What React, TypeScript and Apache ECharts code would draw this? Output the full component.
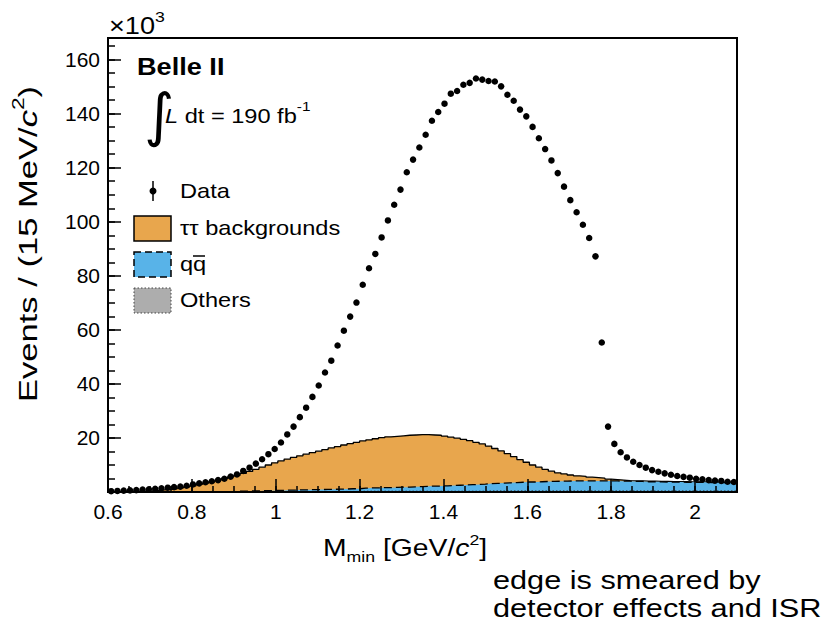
import React, { useEffect, useRef } from "react";
import * as echarts from "echarts";

// Binning of M_min: 100 bins of 15 MeV/c^2 from 0.6 to 2.1 GeV/c^2
const binLow = 0.6;
const binWidth = 0.015;

// Observed events per bin (x10^3)
const dataCounts = [
  0.3, 0.4, 0.5, 0.6, 0.7, 0.9, 1.0, 1.2, 1.4, 1.6, 1.8,
  2.0, 2.3, 2.8, 3.2, 3.6, 4.0, 4.4, 4.9, 5.7, 6.5, 7.8, 9.0, 10.5, 12.1, 14.0, 15.9, 18.3,
  21.3, 24.2, 27.7, 31.2, 35.2, 39.4, 44.2, 48.6, 54.2, 59.7, 64.9, 70.1, 76.7, 82.8, 88.1, 94.2, 100.5, 106.3, 111.9,
  118.3, 123.0, 127.5, 132.2, 137.4, 140.6, 143.7, 147.4, 148.4, 150.7, 151.4, 153.0, 152.6, 152.1, 151.9, 150.1,
  147.0, 144.8, 141.5, 139.0, 135.1, 130.9, 126.9, 122.7, 118.0,
  113.0, 108.0, 103.5, 98.9, 94.0, 87.2, 55.3,
  24.2, 17.8, 14.7, 12.8, 11.2, 10.0, 9.0, 8.1, 7.5, 6.9, 6.4, 5.9, 5.6, 5.3, 4.9, 4.7, 4.4, 4.2, 4.1, 3.8, 3.7,
];

// Expected tau-pair backgrounds per bin (x10^3)
const tautauCounts = [
  0.1, 0.1, 0.2, 0.2, 0.3, 0.3, 0.4, 0.6, 0.7, 0.9, 1.1,
  1.4, 1.8, 2.2, 2.7, 3.2, 3.7, 4.3, 4.9, 5.5, 5.9, 6.6, 7.2, 8.0, 8.7, 9.5, 10.2, 10.9, 11.5, 12.1, 12.6, 13.2,
  13.7, 14.2, 14.7, 15.3, 15.7, 16.3, 16.7, 17.2, 17.5, 17.8, 18.2,
  18.5, 18.8, 18.9, 19.0, 19.2, 19.2, 19.2, 19.1, 18.9, 18.8, 18.4, 17.9, 17.4, 16.9, 16.3, 15.6, 14.9,
  13.9, 12.9, 11.9, 10.8, 9.6, 8.4, 7.3, 6.3, 5.4, 4.5, 3.8, 3.1, 2.7, 2.2, 1.9, 1.7, 1.4, 1.2, 1.0, 0.7,
  0.5, 0.4, 0.2, 0.2, 0.2, 0.2, 0.2, 0.1, 0.2, 0.1, 0.1, 0.2, 0.1, 0.1, 0.1, 0.2, 0.1, 0.1, 0.1, 0.1,
];

// Expected continuum q-qbar per bin (x10^3)
const qqbarCounts = [
  0, 0, 0, 0, 0, 0, 0, 0, 0, 0, 0, 0, 0, 0, 0, 0, 0, 0, 0, 0,
  0.1, 0.1, 0.2, 0.2, 0.3, 0.3, 0.4, 0.4, 0.5, 0.5, 0.6, 0.6, 0.7, 0.7, 0.8, 0.8, 0.9, 0.9, 1.0, 1.0,
  1.1, 1.2, 1.2, 1.3, 1.3, 1.4, 1.5, 1.5, 1.6, 1.7, 1.8, 1.9, 1.9, 2.0, 2.1, 2.2, 2.3, 2.4, 2.5, 2.6,
  2.7, 2.8, 2.9, 3.0, 3.1, 3.2, 3.3, 3.3, 3.4, 3.5, 3.5, 3.6, 3.6, 3.7, 3.7, 3.7, 3.7, 3.7, 3.7, 3.7,
  3.7, 3.6, 3.6, 3.5, 3.5, 3.4, 3.4, 3.4, 3.3, 3.3, 3.3, 3.2, 3.2, 3.2, 3.2, 3.1, 3.1, 3.1, 3.1, 3.1,
];

// Other small contributions per bin (x10^3)
const otherCounts = [
  0, 0, 0, 0, 0, 0, 0, 0,
  0.1, 0.1, 0.1, 0.1, 0.1, 0.1, 0.1, 0.1, 0.1, 0.1, 0.1, 0.1,
  0.2, 0.2, 0.2, 0.2, 0.2, 0.2, 0.2, 0.2, 0.2, 0.2, 0.2, 0.2, 0.2, 0.2, 0.2, 0.2, 0.2, 0.2, 0.2, 0.2,
  0.3, 0.3, 0.3, 0.3, 0.3, 0.3, 0.3, 0.3, 0.3, 0.3, 0.3, 0.3, 0.3, 0.3, 0.3, 0.3, 0.3, 0.3, 0.3, 0.3,
  0.4, 0.4, 0.4, 0.4, 0.4, 0.4, 0.4, 0.4, 0.4, 0.4, 0.4, 0.4, 0.4, 0.4, 0.4, 0.4, 0.4, 0.4, 0.4, 0.4,
  0.4, 0.4, 0.4, 0.4, 0.4, 0.4, 0.4, 0.4, 0.4, 0.4, 0.4, 0.4, 0.4, 0.4, 0.4, 0.4, 0.4, 0.4, 0.4, 0.4,
];

// Axis ranges
const xRange = [0.6, 2.1];
const yRange = [0, 168];

const FONT = '"Liberation Sans", Arial, Helvetica, sans-serif';
const SX = 1.18; // horizontal text widening
const ORANGE = "#E8A64D";
const BLUE = "#58B3E8";
const GREY = "#ADADAD";

const r4 = (v: number) => Math.round(v * 10000) / 10000;

// Histogram outline as step points on bin edges
function stepPoints(vals: number[]) {
  const pts = vals.map((v, i) => [r4(binLow + i * binWidth), r4(v)]);
  pts.push([r4(binLow + vals.length * binWidth), r4(vals[vals.length - 1])]);
  return pts;
}

function buildOption() {
  const othersTop = otherCounts.map((v) => v);
  const qqTop = qqbarCounts.map((v, i) => v + othersTop[i]);
  const tauTop = tautauCounts.map((v, i) => v + qqTop[i]);
  const points = dataCounts.map((v, i) => [r4(binLow + (i + 0.5) * binWidth), v]);

  const tickLine = { color: "#000", width: 1.5 };
  const txt = (x: number, y: number, text: string, size: number, extra: any = {}) => ({
    type: "text",
    x,
    y,
    scaleX: SX,
    z: 30,
    style: {
      text,
      fontSize: size,
      fontFamily: FONT,
      fill: "#000",
      align: "left",
      verticalAlign: "middle",
      ...extra,
    },
  });

  return {
    animation: false,
    backgroundColor: "#fff",
    grid: {
      left: 108,
      right: 95,
      top: 38,
      bottom: 132,
      show: true,
      borderColor: "#000",
      borderWidth: 2,
      backgroundColor: "transparent",
      z: 10,
    },
    xAxis: [
      {
        type: "value",
        min: xRange[0],
        max: xRange[1],
        interval: 0.2,
        position: "bottom",
        z: 10,
        axisLine: { show: true, onZero: false, lineStyle: { color: "#000", width: 2 } },
        axisTick: { show: true, inside: true, length: 13, lineStyle: tickLine },
        axisLabel: {
          show: true,
          margin: 9,
          fontSize: 21,
          color: "#000",
          fontFamily: FONT,
          formatter: (v: number) => (v > 2.05 ? "" : String(Math.round(v * 10) / 10)),
        },
        splitLine: { show: false },
      },
      {
        type: "value",
        min: xRange[0],
        max: xRange[1],
        interval: 0.05,
        position: "bottom",
        z: 10,
        axisLine: { show: false },
        axisTick: { show: true, inside: true, length: 6, lineStyle: tickLine },
        axisLabel: { show: false },
        splitLine: { show: false },
      },
    ],
    yAxis: [
      {
        type: "value",
        min: yRange[0],
        max: yRange[1],
        interval: 20,
        position: "left",
        z: 10,
        axisLine: { show: true, onZero: false, lineStyle: { color: "#000", width: 2 } },
        axisTick: { show: true, inside: true, length: 13, lineStyle: tickLine },
        axisLabel: {
          show: true,
          margin: 8,
          fontSize: 21,
          color: "#000",
          fontFamily: FONT,
          formatter: (v: number) => (v === 0 || v > 165 ? "" : String(v)),
        },
        splitLine: { show: false },
      },
      {
        type: "value",
        min: yRange[0],
        max: yRange[1],
        interval: 5,
        position: "left",
        z: 10,
        axisLine: { show: false },
        axisTick: { show: true, inside: true, length: 7, lineStyle: tickLine },
        axisLabel: { show: false },
        splitLine: { show: false },
      },
    ],
    series: [
      {
        name: "ττ backgrounds",
        type: "line",
        step: "end",
        data: stepPoints(tauTop),
        symbol: "none",
        z: 2,
        lineStyle: { color: "#000", width: 1.3 },
        areaStyle: { color: ORANGE, opacity: 1, origin: "start" },
      },
      {
        name: "qq̄",
        type: "line",
        step: "end",
        data: stepPoints(qqTop),
        symbol: "none",
        z: 3,
        lineStyle: { color: "#000", width: 1.3, type: [8, 4] },
        areaStyle: { color: BLUE, opacity: 1, origin: "start" },
      },
      {
        name: "Others",
        type: "line",
        step: "end",
        data: stepPoints(othersTop),
        symbol: "none",
        z: 4,
        lineStyle: { color: "#333", width: 1, type: [1.5, 2] },
        areaStyle: { color: GREY, opacity: 1, origin: "start" },
      },
      {
        name: "Data",
        type: "scatter",
        data: points,
        symbol: "circle",
        symbolSize: 6.5,
        z: 6,
        itemStyle: { color: "#000", opacity: 1 },
      },
    ],
    graphic: {
      elements: [
        // exponent of the y scale
        txt(109, 26, "{n|×10}{s|3}", 23, {
          rich: {
            n: { fontSize: 23, lineHeight: 33, fontFamily: FONT, fill: "#000" },
            s: { fontSize: 15, lineHeight: 15, verticalAlign: "top", fontFamily: FONT, fill: "#000" },
          },
        }),
        // experiment label
        txt(137, 67, "Belle II", 23, { fontWeight: "bold" }),
        {
          type: "text",
          x: 144,
          y: 115,
          z: 30,
          style: {
            text: "∫",
            fontSize: 58,
            fontFamily: '"DejaVu Sans", sans-serif',
            fill: "#000",
            align: "left",
            verticalAlign: "middle",
          },
        },
        txt(165, 116, "{it|L}{n| dt = 190 fb}{s|-1}", 20, {
          rich: {
            it: { fontSize: 20, lineHeight: 32, fontStyle: "italic", fontFamily: FONT, fill: "#000" },
            n: { fontSize: 20, lineHeight: 32, fontFamily: FONT, fill: "#000" },
            s: { fontSize: 13, lineHeight: 13, verticalAlign: "top", fontFamily: FONT, fill: "#000" },
          },
        }),
        // legend: data marker
        { type: "line", z: 30, shape: { x1: 153, y1: 181, x2: 153, y2: 201 }, style: { stroke: "#000", lineWidth: 1.5 } },
        { type: "circle", z: 30, shape: { cx: 153, cy: 191, r: 3.5 }, style: { fill: "#000" } },
        txt(180, 191, "Data", 20),
        // legend: stacked components
        {
          type: "rect",
          z: 30,
          shape: { x: 134, y: 216, width: 37, height: 25 },
          style: { fill: ORANGE, stroke: "#000", lineWidth: 1.5 },
        },
        txt(180, 228, "ττ backgrounds", 20),
        {
          type: "rect",
          z: 30,
          shape: { x: 134, y: 252, width: 37, height: 25 },
          style: { fill: BLUE, stroke: "#000", lineWidth: 1.5, lineDash: [7, 4] },
        },
        txt(180, 264, "qq", 20),
        { type: "line", z: 30, shape: { x1: 193, y1: 256, x2: 205, y2: 256 }, style: { stroke: "#000", lineWidth: 1.5 } },
        {
          type: "rect",
          z: 30,
          shape: { x: 134, y: 288, width: 37, height: 25 },
          style: { fill: GREY, stroke: "#444", lineWidth: 1, lineDash: [1.5, 2] },
        },
        txt(180, 300, "Others", 20),
        // axis titles
        txt(323, 548, "{n|M}{b|min}{n| [GeV/}{i|c}{s|2}{n|]}", 24, {
          rich: {
            n: { fontSize: 24, lineHeight: 32, fontFamily: FONT, fill: "#000" },
            b: { fontSize: 15, lineHeight: 15, verticalAlign: "bottom", fontFamily: FONT, fill: "#000" },
            i: { fontSize: 24, lineHeight: 32, fontStyle: "italic", fontFamily: FONT, fill: "#000" },
            s: { fontSize: 15, lineHeight: 15, verticalAlign: "top", fontFamily: FONT, fill: "#000" },
          },
        }),
        {
          type: "text",
          x: 28,
          y: 244,
          rotation: Math.PI / 2,
          scaleX: 1.33,
          z: 30,
          style: {
            text: "{n|Events / (15 MeV/}{i|c}{s|2}{n|)}",
            fontSize: 26,
            fontFamily: FONT,
            fill: "#000",
            align: "center",
            verticalAlign: "middle",
            rich: {
              n: { fontSize: 26, lineHeight: 36, fontFamily: FONT, fill: "#000" },
              i: { fontSize: 26, lineHeight: 36, fontStyle: "italic", fontFamily: FONT, fill: "#000" },
              s: { fontSize: 17, lineHeight: 17, verticalAlign: "top", fontFamily: FONT, fill: "#000" },
            },
          },
        },
        // annotation
        txt(493, 580, "edge is smeared by", 26),
        txt(493, 608, "detector effects and ISR", 26),
      ],
    },
  };
}

export default function App() {
  const ref = useRef<HTMLDivElement>(null);
  useEffect(() => {
    if (!ref.current) return;
    const chart = echarts.init(ref.current, undefined, { renderer: "svg" });
    chart.setOption(buildOption() as any);
    return () => chart.dispose();
  }, []);
  return (
    <div
      ref={ref}
      style={{ position: "absolute", left: 0, top: 0, width: 832, height: 624, background: "#fff" }}
    />
  );
}
